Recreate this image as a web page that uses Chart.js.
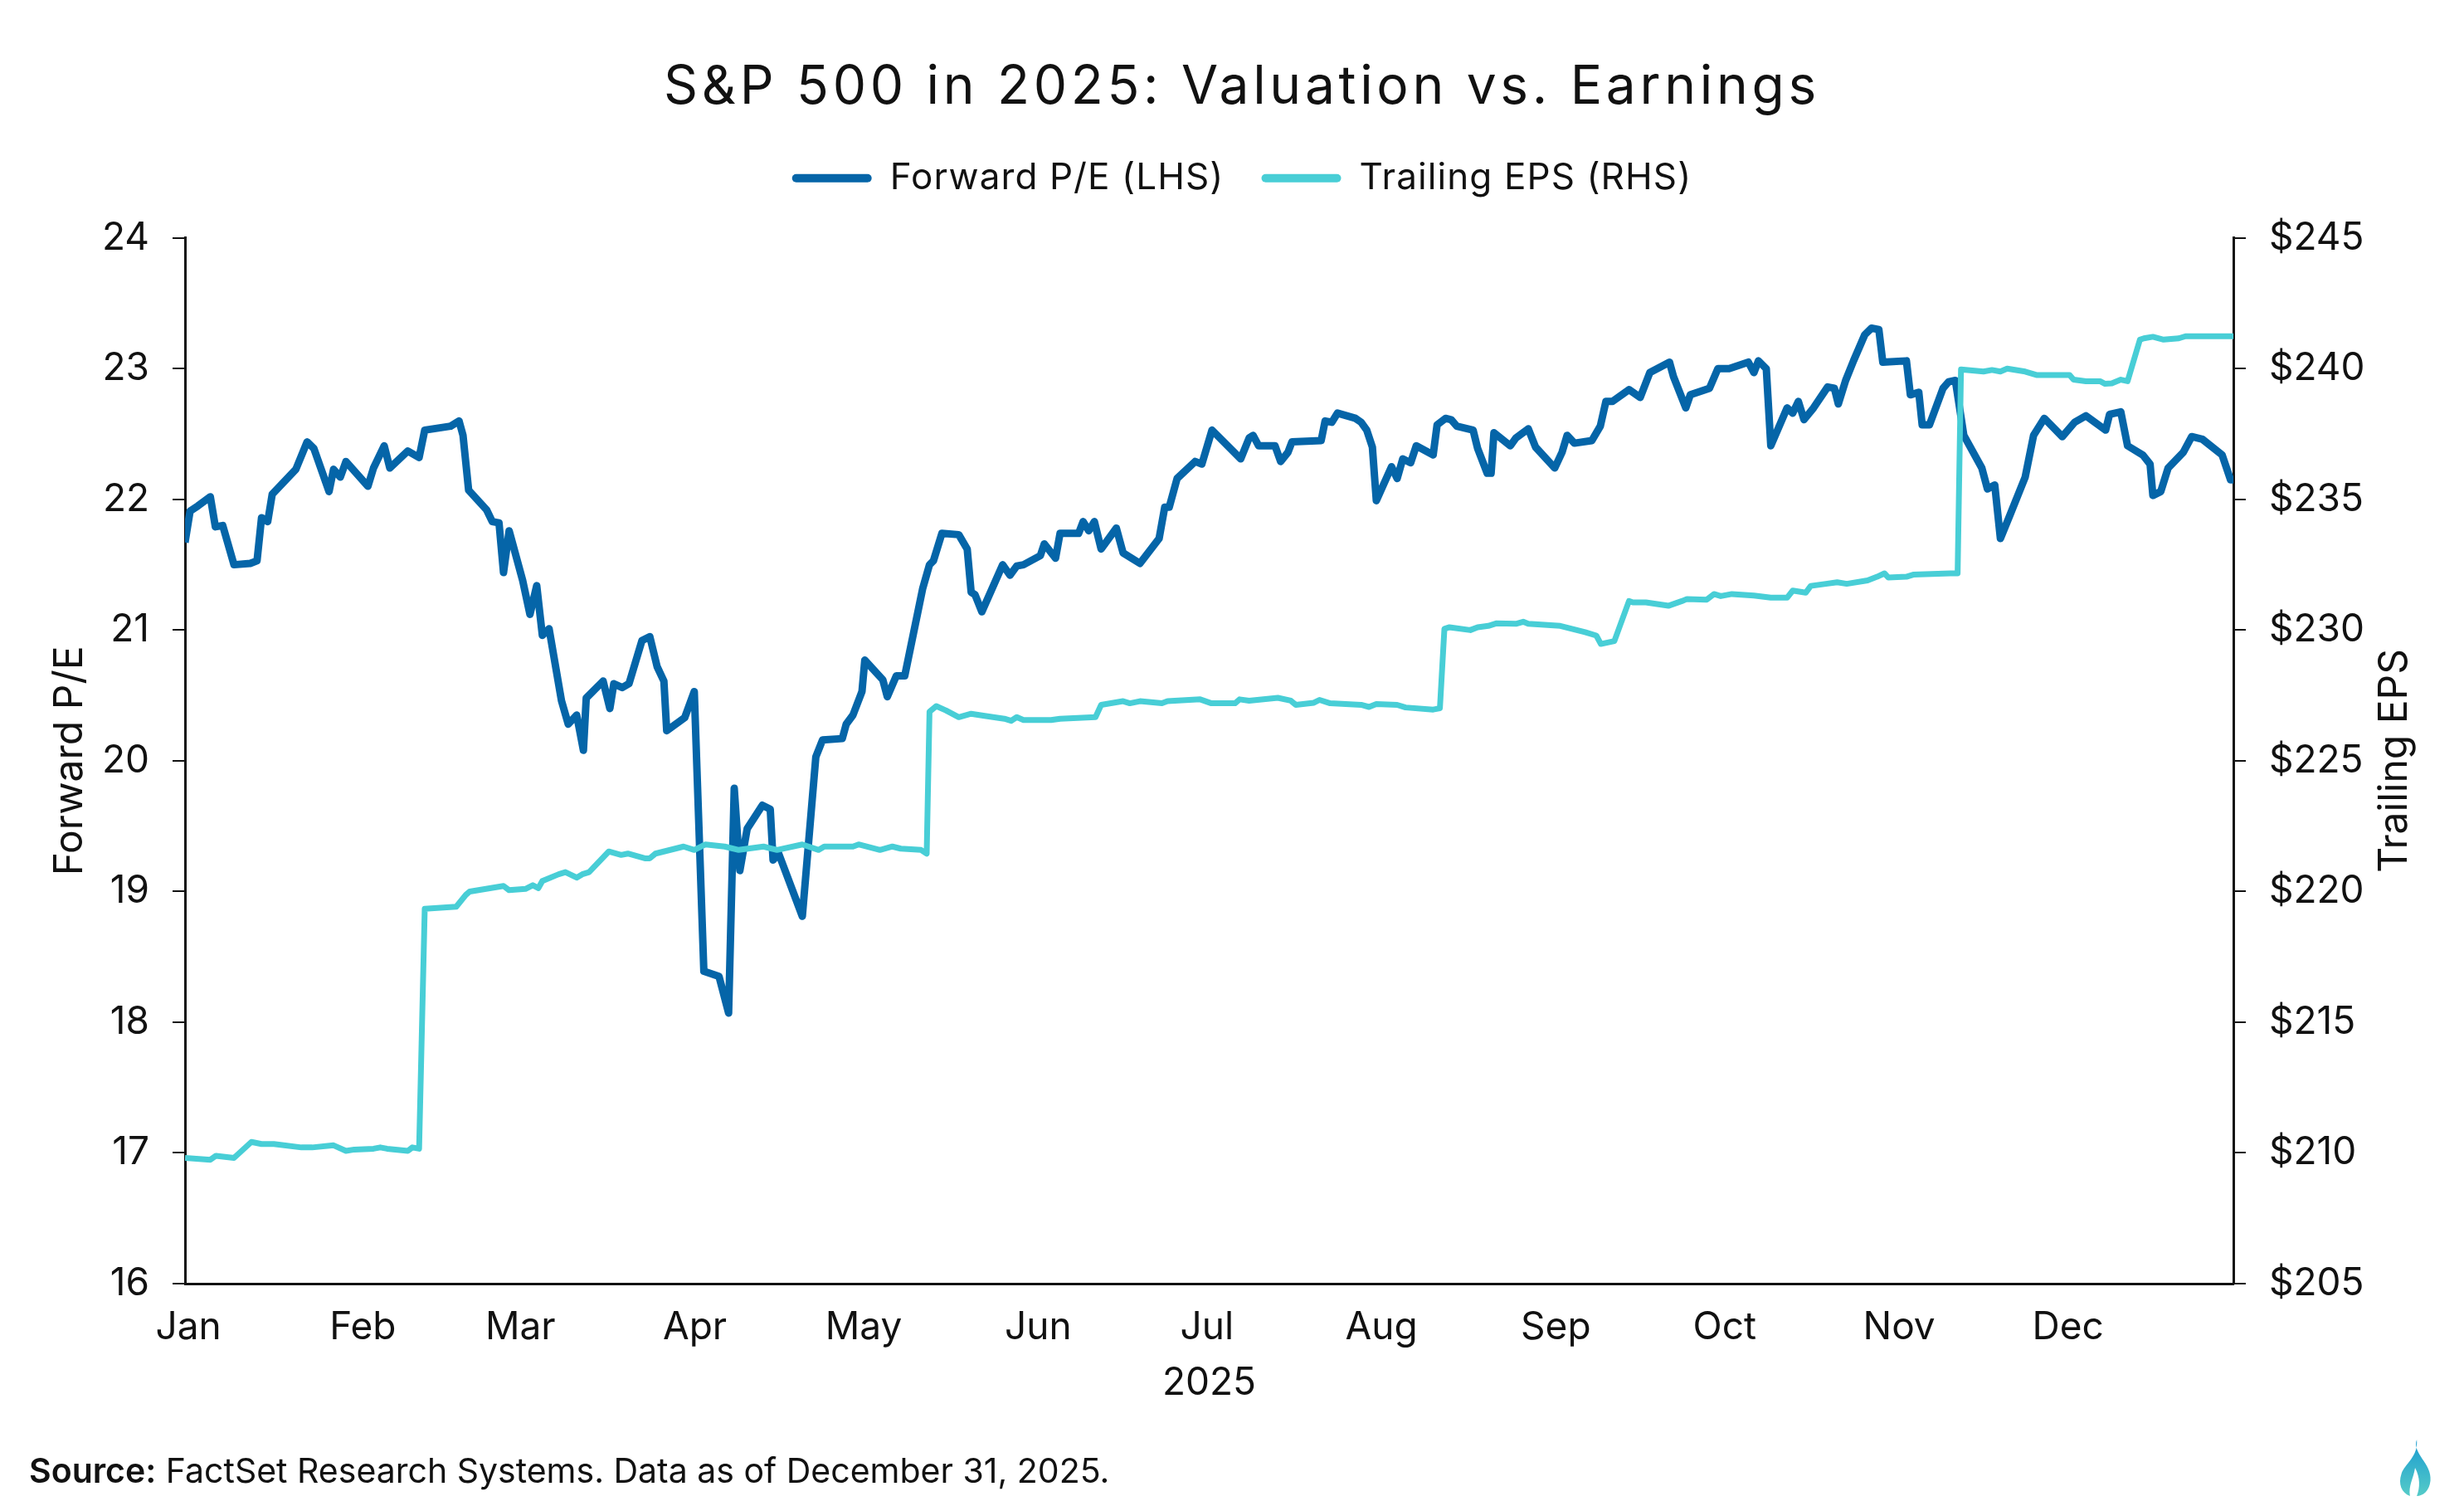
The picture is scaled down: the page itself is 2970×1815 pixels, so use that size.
<!DOCTYPE html>
<html>
<head>
<meta charset="utf-8">
<title>S&amp;P 500 in 2025: Valuation vs. Earnings</title>
<script src="https://cdn.jsdelivr.net/npm/chart.js@4.4.1/dist/chart.umd.min.js"></script>
<style>
  html, body { margin: 0; padding: 0; background: #ffffff; }
  #wrap { position: relative; width: 2970px; height: 1815px; }
  #chart { position: absolute; left: 0; top: 0; }
  #source { position: absolute; left: 35px; top: 1748px; font: 41px/48px Inter, "Noto Sans", sans-serif; color: #111111; white-space: nowrap; }
  #source b { font-weight: 600; }
  #logo { position: absolute; left: 2884px; top: 1733px; }
</style>
</head>
<body>
<div id="wrap">
  <canvas id="chart" width="2970" height="1815"></canvas>
  <div id="source"><b>Source:</b> FactSet Research Systems. Data as of December 31, 2025.</div>
  <svg id="logo" width="52" height="72" viewBox="0 0 48 70">
    <defs>
      <linearGradient id="flame" x1="0" y1="0" x2="0" y2="1">
        <stop offset="0" stop-color="#1a9bd0"/>
        <stop offset="1" stop-color="#55cbc8"/>
      </linearGradient>
    </defs>
    <path d="M27 2 C 21 18, 45 30, 43 50 C 42 62, 34 68, 27 68 C 31 58, 31 46, 25 35 C 23 48, 17 56, 19 68 C 9 64, 5 54, 9 42 C 13 30, 29 22, 27 2 Z" fill="url(#flame)"/>
  </svg>
</div>
<script>
// Axe des x : jours de l'année 2025 (1er janvier = 0)
const monthLabels = ['Jan', 'Feb', 'Mar', 'Apr', 'May', 'Jun', 'Jul', 'Aug', 'Sep', 'Oct', 'Nov', 'Dec'];
const monthStarts = [0, 31, 59, 90, 120, 151, 181, 212, 243, 273, 304, 334];

// Forward P/E (axe gauche)
const peDays = [
  0, 0.9, 2.3, 4.5, 5.4, 6.7, 8.7, 11.6, 12.8, 13.6, 14.7, 15.5, 19.7, 21.7, 22.9, 25.6, 26.4, 27.6, 28.6,
  32.5, 33.5, 35.4, 36.4, 39.6, 41.6, 42.6, 47.2, 48.7, 49.4, 50.4, 53.6, 54.6, 55.8, 56.6, 57.6,
  60.0, 61.3, 62.5, 63.5, 64.7, 66.9, 68.1, 69.6, 70.8, 71.3, 74.3, 75.5, 76.2, 77.7, 78.9, 81.2, 82.6,
  83.9, 85.1, 85.6, 88.8, 90.5, 92.2, 94.9, 96.6, 97.6, 98.6, 99.9, 102.6, 104.0, 104.5, 105.5, 109.7,
  112.1, 113.3, 116.8, 117.5, 118.7, 120.3, 120.8, 124.0, 124.8, 126.4, 127.9, 131.1, 132.3, 133.0,
  134.5, 137.5, 139.0, 139.7, 140.4, 141.6, 145.3, 146.6, 147.8, 149.0, 152.0, 152.7, 154.7, 155.5,
  158.8, 159.6, 160.6, 161.6, 162.8, 165.5, 166.7, 169.7, 173.1, 174.1, 174.9, 176.3, 179.5, 180.7,
  182.5, 187.6, 189.1, 189.8, 190.8, 193.7, 194.7, 196.0, 196.7, 201.9, 202.6, 203.8, 204.8, 208.0,
  209.0, 210.0, 211.0, 211.7, 214.4, 215.4, 216.4, 217.8, 218.8, 221.8, 222.5, 224.0, 225.0, 226.0,
  228.9, 229.7, 231.4, 232.1, 232.6, 235.5, 236.5, 238.7, 240.0, 243.4, 244.7, 245.6, 246.9, 250.0,
  251.5, 252.5, 253.7, 256.6, 258.6, 260.3, 263.8, 264.5, 266.7, 267.5, 270.9, 272.4, 274.4, 277.8,
  278.8, 279.6, 281.0, 281.8, 284.7, 285.7, 286.7, 287.7, 289.4, 291.9, 293.1, 293.8, 295.1, 296.5,
  298.5, 299.7, 301.0, 301.7, 305.9, 306.6, 308.1, 308.7, 310.0, 312.4, 313.4, 314.6, 316.1, 319.3,
  320.3, 321.6, 322.6, 324.3, 327.0, 328.5, 330.4, 333.6, 335.8, 337.8, 341.3, 342.0, 344.0, 345.2,
  347.9, 349.2, 349.7, 351.1, 352.4, 355.1, 356.6, 358.5, 362.0, 363.5, 364.0
];
const peValues = [
  21.67, 21.91, 21.95, 22.02, 21.79, 21.80, 21.50, 21.51, 21.53, 21.86, 21.83, 22.04, 22.23, 22.44, 22.39, 22.06, 22.23, 22.17, 22.29,
  22.10, 22.24, 22.41, 22.24, 22.37, 22.32, 22.53, 22.56, 22.60, 22.49, 22.07, 21.92, 21.83, 21.82, 21.44, 21.76,
  21.38, 21.12, 21.34, 20.96, 21.01, 20.46, 20.28, 20.35, 20.08, 20.48, 20.61, 20.40, 20.59, 20.56, 20.59, 20.92, 20.95,
  20.72, 20.61, 20.23, 20.33, 20.53, 18.39, 18.35, 18.07, 19.79, 19.16, 19.48, 19.66, 19.63, 19.24, 19.29, 18.81,
  20.03, 20.16, 20.17, 20.28, 20.35, 20.53, 20.77, 20.62, 20.49, 20.65, 20.65, 21.32, 21.50, 21.53,
  21.74, 21.73, 21.62, 21.29, 21.27, 21.14, 21.50, 21.42, 21.49, 21.50, 21.57, 21.66, 21.55, 21.74,
  21.74, 21.83, 21.76, 21.83, 21.62, 21.78, 21.59, 21.51, 21.70, 21.94, 21.94, 22.16, 22.29, 22.27,
  22.53, 22.31, 22.47, 22.49, 22.41, 22.41, 22.29, 22.36, 22.44, 22.45, 22.60, 22.59, 22.66, 22.62,
  22.59, 22.53, 22.40, 21.99, 22.25, 22.16, 22.31, 22.28, 22.41, 22.34, 22.57, 22.62, 22.61, 22.56,
  22.53, 22.39, 22.20, 22.20, 22.51, 22.41, 22.47, 22.54, 22.40, 22.24, 22.36, 22.49, 22.43, 22.45,
  22.56, 22.75, 22.75, 22.84, 22.78, 22.97, 23.05, 22.94, 22.70, 22.80, 22.85, 23.00, 23.00, 23.05,
  22.97, 23.06, 23.00, 22.41, 22.70, 22.66, 22.75, 22.61, 22.70, 22.86, 22.85, 22.73, 22.91, 23.06,
  23.26, 23.31, 23.30, 23.05, 23.06, 22.80, 22.82, 22.57, 22.57, 22.85, 22.90, 22.91, 22.49, 22.24,
  22.08, 22.11, 21.70, 21.88, 22.17, 22.49, 22.62, 22.48, 22.59, 22.64, 22.53, 22.65, 22.67, 22.41,
  22.34, 22.27, 22.03, 22.06, 22.24, 22.36, 22.48, 22.46, 22.34, 22.15, 22.15
];

// Trailing EPS (axe droit)
const epsDays = [
  0, 4.5, 5.5, 8.7, 11.8, 13.6, 15.8, 20.7, 22.6, 26.4, 28.6, 30.1, 33.5, 34.7, 35.9, 39.6, 40.4, 41.6,
  42.6, 48.2, 49.9, 50.6, 56.6, 57.6, 60.5, 61.8, 62.8, 63.5, 66.4, 67.6, 69.6, 70.6, 71.8, 75.3, 77.5,
  78.7, 81.7, 82.6, 83.6, 88.6, 90.5, 92.5, 95.9, 98.4, 102.8, 105.2, 109.7, 112.6, 113.6, 118.7, 119.7,
  123.5, 125.7, 127.2, 130.8, 131.8, 132.3, 133.5, 135.2, 137.5, 139.7, 142.1, 145.6, 146.8, 147.8, 149.0,
  153.9, 155.5, 161.8, 162.8, 166.7, 167.9, 169.7, 173.6, 174.6, 180.4, 182.4, 186.6, 187.4, 189.1, 194.2,
  196.5, 197.4, 200.6, 201.6, 203.5, 209.0, 210.4, 211.7, 215.4, 216.9, 221.8, 223.0, 223.8, 224.7, 228.4,
  229.7, 231.6, 233.1, 236.5, 237.8, 238.7, 244.4, 248.8, 250.8, 251.6, 254.0, 256.6, 257.3, 259.6, 263.6,
  266.0, 266.9, 270.4, 271.7, 272.9, 274.9, 278.8, 281.8, 284.7, 285.7, 288.0, 288.9, 291.6, 293.6, 295.3,
  299.0, 300.7, 302.0, 302.7, 305.9, 307.1, 313.7, 315.0, 315.6, 319.6, 321.1, 322.6, 323.8, 327.0, 329.0,
  334.9, 335.6, 337.8, 340.3, 341.2, 342.4, 344.0, 345.2, 347.4, 348.1, 349.7, 351.6, 354.3, 355.5, 358.5, 364.0
];
const epsValues = [
  209.81, 209.74, 209.89, 209.81, 210.42, 210.34, 210.34, 210.21, 210.21, 210.29, 210.08, 210.13, 210.16, 210.21, 210.16, 210.08, 210.21, 210.16,
  219.34, 219.42, 219.87, 220.00, 220.21, 220.05, 220.10, 220.24, 220.13, 220.40, 220.66, 220.74, 220.53, 220.66, 220.74, 221.53, 221.40,
  221.45, 221.27, 221.27, 221.45, 221.72, 221.59, 221.80, 221.72, 221.59, 221.72, 221.59, 221.80, 221.59, 221.72, 221.72, 221.80,
  221.59, 221.72, 221.64, 221.59, 221.45, 226.88, 227.09, 226.93, 226.67, 226.80, 226.72, 226.61, 226.53, 226.67, 226.56,
  226.56, 226.61, 226.67, 227.14, 227.28, 227.20, 227.28, 227.20, 227.28, 227.35, 227.20, 227.20, 227.35, 227.30, 227.41,
  227.30, 227.14, 227.22, 227.33, 227.20, 227.14, 227.06, 227.17, 227.14, 227.04, 226.96, 227.01, 230.05, 230.11, 230.00,
  230.11, 230.16, 230.26, 230.24, 230.32, 230.24, 230.16, 229.92, 229.79, 229.47, 229.58, 231.11, 231.06, 231.06, 230.93,
  231.11, 231.19, 231.16, 231.38, 231.30, 231.38, 231.32, 231.24, 231.24, 231.51, 231.43, 231.69, 231.77, 231.83, 231.77,
  231.90, 232.04, 232.17, 232.01, 232.04, 232.12, 232.17, 232.17, 239.97, 239.89, 239.95, 239.89, 240.00, 239.89, 239.76,
  239.76, 239.58, 239.52, 239.52, 239.42, 239.44, 239.58, 239.52, 241.11, 241.16, 241.22, 241.11, 241.16, 241.24, 241.24, 241.24
];

// Couleurs et polices
const fontFamily = 'Inter, "Noto Sans", sans-serif';
const ink = '#111111';
const peColor = '#0565a8';
const epsColor = '#48ced6';

function toPoints(days, values) {
    return days.map((d, i) => ({ x: d, y: values[i] }));
}

// Espacement des lettres du titre et de la légende, marge sous la légende
const textTweaks = {
    id: 'textTweaks',
    beforeInit(chart) {
        const legend = chart.legend;
        const legendFit = legend.fit;
        const legendDraw = legend.draw;
        legend.fit = function () {
            this.ctx.save();
            this.ctx.letterSpacing = '1.1px';
            legendFit.call(this);
            this.ctx.restore();
            this.height += 40;
        };
        legend.draw = function () {
            this.ctx.save();
            this.ctx.letterSpacing = '1.1px';
            legendDraw.call(this);
            this.ctx.restore();
        };
        const title = chart.titleBlock;
        const titleDraw = title.draw;
        title.draw = function () {
            this.ctx.save();
            this.ctx.letterSpacing = '4.7px';
            titleDraw.call(this);
            this.ctx.restore();
        };
    }
};

// Titre de l'axe droit, lu de bas en haut comme celui de gauche
const rightTitle = {
    id: 'rightTitle',
    afterDraw(chart) {
        const { ctx, chartArea } = chart;
        ctx.save();
        ctx.translate(2887, (chartArea.top + chartArea.bottom) / 2);
        ctx.rotate(-Math.PI / 2);
        ctx.font = '48px ' + fontFamily;
        ctx.fillStyle = ink;
        ctx.textAlign = 'center';
        ctx.textBaseline = 'middle';
        ctx.fillText('Trailing EPS', 0, 0);
        ctx.restore();
    }
};

const padLeft = 24;
const tickFont = { family: fontFamily, size: 46 };
const axisTitleFont = { family: fontFamily, size: 48 };

new Chart(document.getElementById('chart').getContext('2d'), {
    type: 'line',
    data: {
        datasets: [
            {
                label: 'Forward P/E (LHS)',
                data: toPoints(peDays, peValues),
                yAxisID: 'y',
                borderColor: peColor,
                backgroundColor: peColor,
                borderWidth: 9,
                borderJoinStyle: 'round',
                pointRadius: 0,
                tension: 0,
                order: 1
            },
            {
                label: 'Trailing EPS (RHS)',
                data: toPoints(epsDays, epsValues),
                yAxisID: 'y1',
                borderColor: epsColor,
                backgroundColor: epsColor,
                borderWidth: 7,
                borderJoinStyle: 'round',
                pointRadius: 0,
                tension: 0,
                order: 0
            }
        ]
    },
    options: {
        responsive: false,
        animation: false,
        devicePixelRatio: 1,
        layout: { padding: { top: 67, left: padLeft, right: 0, bottom: 0 } },
        plugins: {
            title: {
                display: true,
                text: 'S&P 500 in 2025: Valuation vs. Earnings',
                color: ink,
                font: { family: fontFamily, size: 64, weight: '400' },
                padding: { top: 0, bottom: 4 }
            },
            legend: {
                display: true,
                position: 'top',
                labels: {
                    color: ink,
                    font: { family: fontFamily, size: 44 },
                    boxWidth: 96,
                    boxHeight: 10,
                    useBorderRadius: true,
                    borderRadius: 5,
                    padding: 45,
                    sort: (a, b) => a.datasetIndex - b.datasetIndex,
                    generateLabels(chart) {
                        return Chart.defaults.plugins.legend.labels.generateLabels(chart)
                            .map(item => ({ ...item, lineWidth: 0 }));
                    }
                }
            },
            tooltip: { enabled: false }
        },
        scales: {
            x: {
                type: 'linear',
                position: 'bottom',
                min: 0,
                max: 364,
                afterBuildTicks: scale => {
                    scale.ticks = monthStarts.map(v => ({ value: v + 0.6 }));
                },
                afterFit: scale => {
                    scale.height = 1815 - 1547;
                },
                grid: { display: false },
                border: { display: true, color: ink, width: 3 },
                ticks: {
                    color: ink,
                    font: tickFont,
                    padding: 18,
                    maxRotation: 0,
                    autoSkip: false,
                    callback: (value, index) => monthLabels[index]
                },
                title: {
                    display: true,
                    text: '2025',
                    color: ink,
                    font: tickFont,
                    padding: { top: 0, bottom: 120 }
                }
            },
            y: {
                position: 'left',
                min: 16,
                max: 24,
                afterFit: scale => {
                    scale.width = 223 - padLeft;
                },
                grid: { drawOnChartArea: false, drawTicks: true, tickLength: 15, color: ink, lineWidth: 2 },
                border: { display: true, color: ink, width: 3 },
                ticks: { stepSize: 1, color: ink, font: tickFont, padding: 28 },
                title: {
                    display: true,
                    text: 'Forward P/E',
                    color: ink,
                    font: axisTitleFont,
                    padding: { top: 32, bottom: 0 }
                }
            },
            y1: {
                position: 'right',
                min: 205,
                max: 245,
                afterFit: scale => {
                    scale.width = 2970 - 2692;
                },
                grid: { drawOnChartArea: false, drawTicks: true, tickLength: 15, color: ink, lineWidth: 2 },
                border: { display: true, color: ink, width: 3 },
                ticks: {
                    stepSize: 5,
                    color: ink,
                    font: tickFont,
                    padding: 28,
                    callback: value => '$' + value
                }
            }
        }
    },
    plugins: [textTweaks, rightTitle]
});
</script>
</body>
</html>
